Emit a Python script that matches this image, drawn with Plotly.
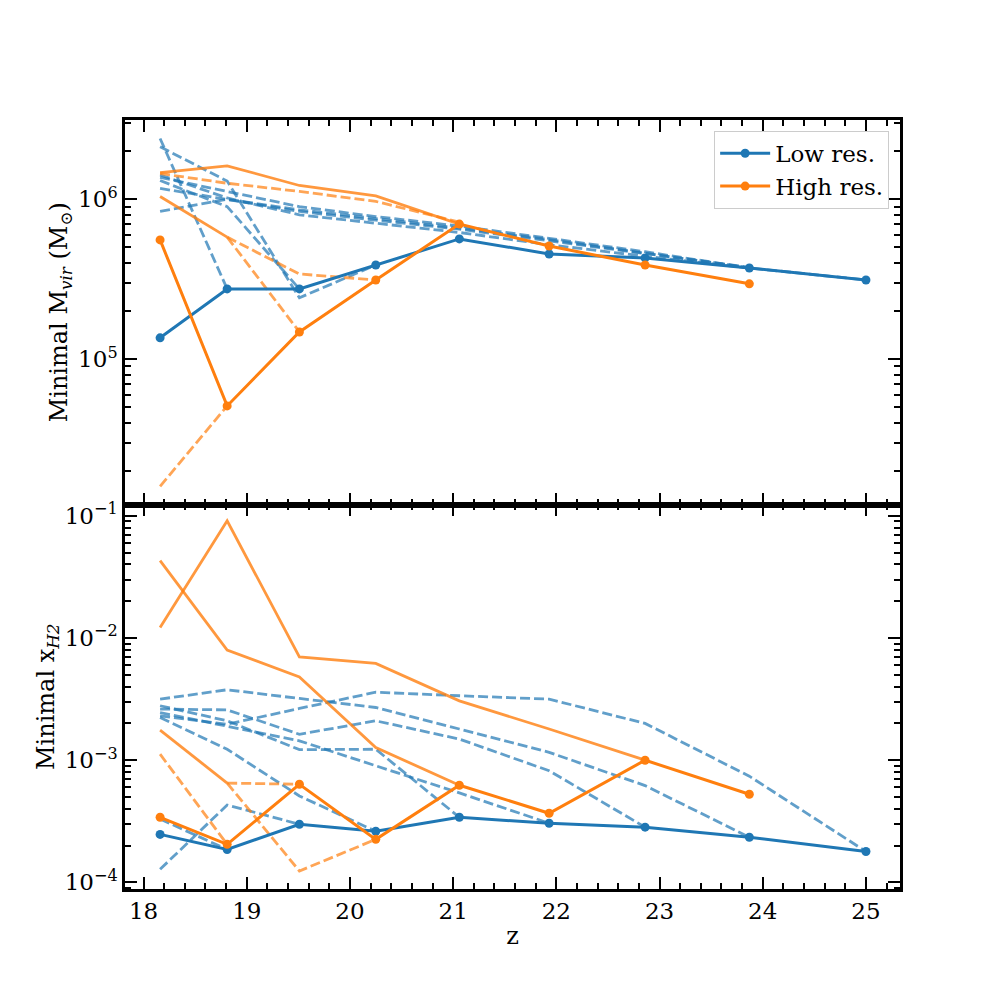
#Minimal halo mass and H2 fraction vs redshift, low vs high resolution

import plotly.graph_objs as go
from plotly.subplots import make_subplots

#Redshift of the outputs
z = [18.16, 18.81, 19.51, 20.25, 21.06, 21.93, 22.86, 23.87, 25.0]

#Top panel: minimal virial mass (Msun)
low_mvir = [1.36e5, 2.75e5, 2.75e5, 3.88e5, 5.65e5, 4.55e5, 4.3e5, 3.72e5, 3.13e5]
high_mvir = [5.57e5, 5.1e4, 1.48e5, 3.13e5, 7.0e5, 5.1e5, 3.88e5, 2.96e5, None]

#individual halo tracks, low res (dashed)
low_mvir_tracks = [
    [2.4e6, 2.75e5, None, None, None, None, None, None, None],
    [2.13e6, 1.3e6, 2.42e5, 3.88e5, None, None, None, None, None],
    [1.31e6, 9.0e5, 2.75e5, None, None, None, None, None, None],
    [1.42e6, 1.02e6, 8.0e5, 7.1e5, 6.2e5, 5.2e5, 4.4e5, 3.72e5, 3.13e5],
    [1.37e6, 1.12e6, 9.0e5, 7.8e5, 6.8e5, 5.7e5, 4.7e5, 3.72e5, None],
    [1.17e6, 1.0e6, 8.4e5, 7.4e5, 6.5e5, 5.5e5, 4.6e5, 3.75e5, None],
    [8.4e5, 1.0e6, 8.6e5, 7.6e5, 6.6e5, 5.6e5, 4.6e5, 3.72e5, None],
]
#individual halo tracks, high res (solid thin and dashed)
high_mvir_solid = [
    [1.47e6, 1.62e6, 1.22e6, 1.05e6, 7.0e5, None, None, None, None],
    [1.04e6, 5.8e5, None, None, None, None, None, None, None],
]
high_mvir_dashed = [
    [1.45e6, 1.26e6, 1.12e6, 9.7e5, 7.2e5, None, None, None, None],
    [None, 5.8e5, 3.41e5, 3.13e5, None, None, None, None, None],
    [None, 5.8e5, 1.48e5, None, None, None, None, None, None],
    [1.6e4, 5.1e4, None, None, None, None, None, None, None],
]

#Bottom panel: minimal H2 fraction
low_xh2 = [2.47e-4, 1.86e-4, 2.99e-4, 2.62e-4, 3.41e-4, 3.05e-4, 2.83e-4, 2.34e-4, 1.79e-4]
high_xh2 = [3.41e-4, 2.05e-4, 6.35e-4, 2.25e-4, 6.24e-4, 3.68e-4, 1.0e-3, 5.26e-4, None]

low_xh2_tracks = [
    [2.31e-3, 1.97e-3, 2.65e-3, 3.6e-3, 3.37e-3, 3.16e-3, 2.0e-3, 7.4e-4, 1.79e-4],
    [3.16e-3, 3.77e-3, 3.2e-3, 2.7e-3, 1.8e-3, 1.16e-3, 6.2e-4, 2.34e-4, None],
    [2.62e-3, 2.58e-3, 1.63e-3, 2.1e-3, 1.49e-3, 8.2e-4, 2.83e-4, None, None],
    [2.79e-3, 2.1e-3, 1.22e-3, 1.23e-3, 3.41e-4, None, None, None, None],
    [2.45e-3, 1.9e-3, 1.44e-3, 9.0e-4, 5.4e-4, 3.05e-4, None, None, None],
    [2.24e-3, 1.23e-3, 5.1e-4, 2.62e-4, None, None, None, None, None],
    [1.28e-4, 4.3e-4, 2.99e-4, None, None, None, None, None, None],
    [3.3e-4, 1.86e-4, None, None, None, None, None, None, None],
]
high_xh2_solid = [
    [4.3e-2, 7.97e-3, 4.8e-3, 1.27e-3, 6.24e-4, None, None, None, None],
    [1.22e-2, 9.1e-2, 7.0e-3, 6.2e-3, 3.06e-3, 1.8e-3, 1.0e-3, None, None],
    [1.76e-3, 6.5e-4, None, None, None, None, None, None, None],
]
high_xh2_dashed = [
    [None, 6.5e-4, 6.35e-4, None, None, None, None, None, None],
    [None, 6.5e-4, 1.24e-4, 2.25e-4, None, None, None, None, None],
    [1.12e-3, 2.05e-4, None, None, None, None, None, None, None],
]

blue = '#1f77b4'
orange = '#ff7f0e'
font = 'DejaVu Serif'
dash = '10px,4px'

fig = make_subplots(rows=2, cols=1, shared_xaxes=True, vertical_spacing=0)

def add_tracks(tracks, color, row, dashed=True, opacity=0.7):
    for t in tracks:
        fig.add_trace(go.Scatter(x=z, y=t, mode='lines',
                                 line=dict(color=color, width=2.8, dash=dash if dashed else 'solid'),
                                 opacity=opacity, showlegend=False, hoverinfo='skip'),
                      row=row, col=1)

#halo tracks first, main lines on top
add_tracks(low_mvir_tracks, blue, 1)
add_tracks(high_mvir_dashed, orange, 1)
add_tracks(high_mvir_solid, orange, 1, dashed=False, opacity=0.8)
add_tracks(low_xh2_tracks, blue, 2)
add_tracks(high_xh2_dashed, orange, 2)
add_tracks(high_xh2_solid, orange, 2, dashed=False, opacity=0.8)

for y_low, y_high, row in [(low_mvir, high_mvir, 1), (low_xh2, high_xh2, 2)]:
    fig.add_trace(go.Scatter(x=z, y=y_low, mode='lines+markers', name='Low res.',
                             line=dict(color=blue, width=3), marker=dict(size=9, color=blue),
                             showlegend=(row == 1)), row=row, col=1)
    fig.add_trace(go.Scatter(x=z, y=y_high, mode='lines+markers', name='High res.',
                             line=dict(color=orange, width=3), marker=dict(size=9, color=orange),
                             showlegend=(row == 1)), row=row, col=1)

#axes: inward ticks on all sides
x_major = list(range(18, 26))
x_minor = [18 + 0.2 * i for i in range(-1, 38) if i % 5 != 0]
axis_style = dict(showline=True, linewidth=2.5, linecolor='black', mirror='ticks',
                  ticks='inside', ticklen=12, tickwidth=2, tickcolor='black',
                  showgrid=False, zeroline=False,
                  tickfont=dict(family=font, size=23, color='black'))

for row in [1, 2]:
    fig.update_xaxes(range=[17.82, 25.33], tickvals=x_major,
                     minor=dict(tickvals=x_minor, ticks='inside', ticklen=6, tickwidth=1.5, tickcolor='black'),
                     row=row, col=1, **axis_style)
fig.update_xaxes(showticklabels=False, row=1, col=1)
fig.update_xaxes(title=dict(text='z', font=dict(family=font, size=24, color='black'), standoff=4),
                 ticktext=[str(v) for v in x_major], row=2, col=1)

m_major = [1e5, 1e6]
m_minor = [k * 10 ** e for e in range(4, 7) for k in range(2, 10)]
fig.update_yaxes(type='log', range=[4.091, 6.496], tickvals=m_major,
                 ticktext=['10<sup>5</sup>', '10<sup>6</sup>'],
                 minor=dict(tickvals=m_minor, ticks='inside', ticklen=6, tickwidth=1.5, tickcolor='black'),
                 title=dict(text='Minimal M<sub><i>vir</i></sub> (M<sub>⊙</sub>)',
                            font=dict(family=font, size=24, color='black'), standoff=4),
                 row=1, col=1, **axis_style)

h2_major = [1e-4, 1e-3, 1e-2, 1e-1]
h2_minor = [k * 10 ** e for e in range(-5, -1) for k in range(2, 10)]
fig.update_yaxes(type='log', range=[-4.054, -0.9075], tickvals=h2_major,
                 ticktext=['10<sup>−4</sup>', '10<sup>−3</sup>', '10<sup>−2</sup>', '10<sup>−1</sup>'],
                 minor=dict(tickvals=h2_minor, ticks='inside', ticklen=6, tickwidth=1.5, tickcolor='black'),
                 title=dict(text='Minimal x<sub><i>H2</i></sub>',
                            font=dict(family=font, size=24, color='black'), standoff=4),
                 row=2, col=1, **axis_style)

fig.update_layout(width=1000, height=1000, plot_bgcolor='white', paper_bgcolor='white',
                  margin=dict(l=117, r=108, t=112, b=119),
                  font=dict(family=font, size=22, color='black'),
                  legend=dict(x=0.986, y=0.986, xanchor='right', yanchor='top', itemwidth=50,
                              bgcolor='rgba(255,255,255,0.8)', bordercolor='#cccccc', borderwidth=1,
                              font=dict(family=font, size=23, color='black')),
                  hovermode='closest')

fig.write_html('out.html')
